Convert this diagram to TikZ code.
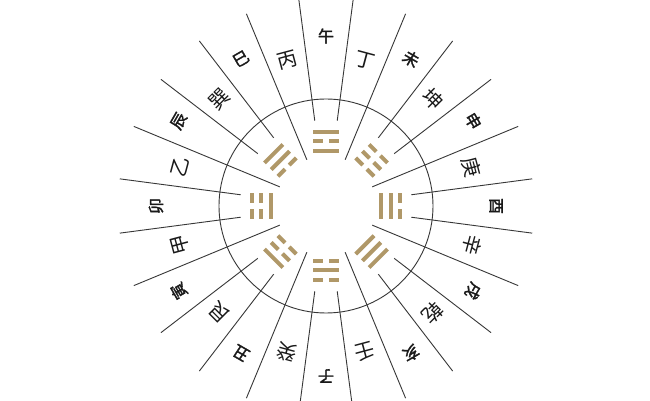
\documentclass[tikz,border=0pt]{standalone}
\usepackage{fontspec}
\newfontfamily\cjk{Noto Sans CJK SC}
\newfontfamily\cjkb[FakeBold=2]{Noto Sans CJK SC}
\definecolor{gold}{RGB}{176,152,104}
\definecolor{ink}{RGB}{55,55,55}
\definecolor{txt}{RGB}{25,25,25}
\newcommand\yao[2]{\ifnum#2=1 \fill[gold] (-13,#1-2) rectangle (13,#1+2);\else \fill[gold] (-13,#1-2) rectangle (-3,#1+2); \fill[gold] (3,#1-2) rectangle (13,#1+2);\fi}
\newcommand\trigram[4]{\begin{scope}[rotate=-#1]\yao{55}{#2}\yao{64.5}{#3}\yao{74}{#4}\end{scope}}
\tikzset{
  rule/.style={ink, line width=0.9pt},
  branch/.style={inner sep=0pt, text=txt, font=\cjkb\fontsize{16}{16}\selectfont},
  stem/.style={inner sep=0pt, text=txt, font=\cjk\fontsize{20}{20}\selectfont}
}
\begin{document}
\begin{tikzpicture}[x=1pt,y=1pt]
\useasboundingbox (-326,-195) rectangle (324,206);
\fill[white] (-326,-195) rectangle (324,206);
\clip (-326,-195) rectangle (324,206);
\draw[rule] (0,0) circle (107);
\foreach \k in {0,...,23}{
  \pgfmathsetmacro\b{7.5+15*\k}
  \pgfmathsetmacro\rin{ifthenelse(mod(\k,3)==1,50,86)}
  \draw[rule] (90-\b:\rin) -- (90-\b:208);
}
\foreach \b/\c in {0/午,30/未,60/申,90/酉,120/戌,150/亥,180/子,210/丑,240/寅,270/卯,300/辰,330/巳}
  \node[branch, rotate=-\b] at (90-\b:170) {\c};
\foreach \b/\c in {15/丁,45/坤,75/庚,105/辛,135/乾,165/壬,195/癸,225/艮,255/甲,285/乙,315/巽,345/丙}
  \node[stem, rotate=-\b] at (90-\b:151) {\c};
\trigram{0}{1}{0}{1}
\trigram{45}{0}{0}{0}
\trigram{90}{1}{1}{0}
\trigram{135}{1}{1}{1}
\trigram{180}{0}{1}{0}
\trigram{225}{0}{0}{1}
\trigram{270}{1}{0}{0}
\trigram{315}{0}{1}{1}
\end{tikzpicture}
\end{document}
